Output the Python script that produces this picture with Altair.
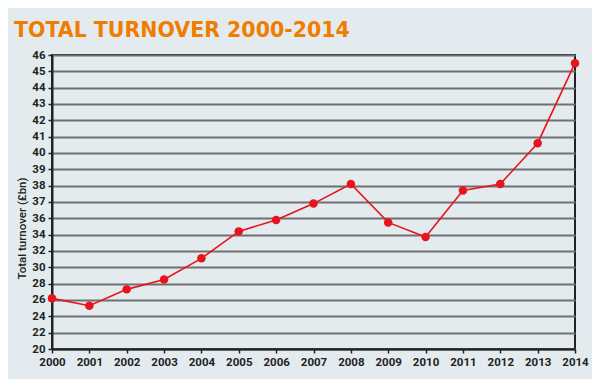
import altair as alt
import pandas as pd

years = list(range(2000, 2015))
turnover = [26.2, 25.3, 27.3, 28.5, 31.1, 34.4, 35.8, 36.9, 38.1, 35.5, 33.7, 37.7, 38.1, 40.6, 45.5]
y_ticks = [20, 22, 24, 26, 28, 30, 32, 34, 36, 37, 38, 39, 40, 41, 42, 43, 44, 45, 46]
x_ticks = years

df = pd.DataFrame({"year": years, "turnover": turnover})

BG = "#e4ebee"
RED = "#e8141c"
ORANGE = "#f07d00"
FONT = "Roboto"
DARK = "#222222"

x = alt.X(
    "year:Q",
    scale=alt.Scale(domain=[2000, 2014], nice=False, zero=False),
    axis=alt.Axis(
        values=x_ticks, format="d", title=None, grid=False,
        labelFont=FONT, labelFontSize=11.5, labelFontWeight="bold", labelColor=DARK,
        domainColor=DARK, domainWidth=2, tickColor=DARK, tickWidth=1.5, tickSize=4,
        labelPadding=3, labelFlush=False,
    ),
)
y = alt.Y(
    "turnover:Q",
    scale=alt.Scale(domain=[20, 36, 46], range=[294, 163.3, 0], nice=False, zero=False),
    axis=alt.Axis(
        values=y_ticks, format="d", title="Total turnover (£bn)",
        grid=True, gridColor="#707070", gridWidth=1.8,
        labelFont=FONT, labelFontSize=11.5, labelFontWeight="bold", labelColor=DARK,
        domainColor=DARK, domainWidth=2, tickColor=DARK, tickWidth=1.5, tickSize=4,
        labelPadding=3,
        titleFont=FONT, titleFontSize=11.5, titleFontWeight=500, titleColor=DARK,
        titleAngle=270, titleX=-30, titleY=173, titleAlign="center", titleBaseline="middle",
    ),
)

base = alt.Chart(df).encode(x=x, y=y)
line = base.mark_line(color=RED, strokeWidth=1.6)
pts = base.mark_circle(color=RED, size=72, opacity=1)

chart = (
    (line + pts)
    .properties(
        width=523,
        height=294,
        title=alt.Title(
            "TOTAL TURNOVER 2000-2014",
            anchor="start", frame="group", dx=-38, offset=8,
            font="DejaVu Sans", fontSize=20.5, fontWeight="bold", color=ORANGE,
        ),
        background=BG,
        padding={"left": 44, "top": 47, "right": 17, "bottom": 30},
        autosize=alt.AutoSizeParams(type="none"),
    )
    .configure_view(stroke=DARK, strokeWidth=2)
)

chart.save("out.html", embed_options={"renderer": "svg", "actions": False})
